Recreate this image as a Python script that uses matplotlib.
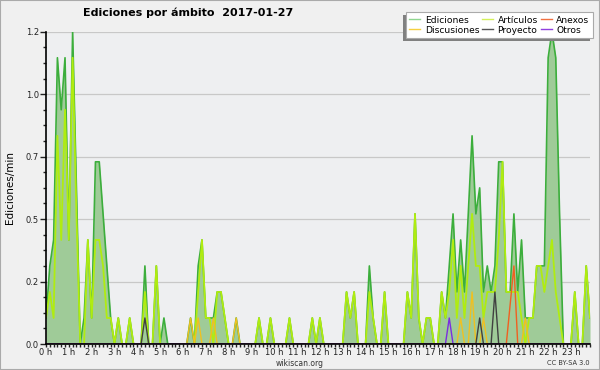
# Ediciones por ámbito - wikiscan 2017-01-27
import numpy as np
import matplotlib
matplotlib.use('Agg')
import matplotlib.pyplot as plt
from matplotlib.patches import Rectangle

# edits per 10-minute bin, 144 bins over the day
ediciones = [1, 3, 4, 11, 9, 11, 4, 12, 6, 0, 1, 4,
             1, 7, 7, 5, 3, 1, 0, 1, 0, 0, 1, 0,
             0, 0, 3, 0, 0, 3, 0, 1, 0, 0, 0, 0,
             0, 0, 1, 0, 3, 4, 1, 1, 1, 2, 2, 1,
             0, 0, 1, 0, 0, 0, 0, 0, 1, 0, 0, 1,
             0, 0, 0, 0, 1, 0, 0, 0, 0, 0, 1, 0,
             1, 0, 0, 0, 0, 0, 0, 2, 1, 2, 0, 0,
             0, 3, 1, 0, 0, 2, 0, 0, 0, 0, 0, 2,
             1, 5, 1, 0, 1, 1, 0, 0, 2, 1, 3, 5,
             2, 4, 2, 5, 8, 5, 6, 2, 3, 2, 3, 7,
             7, 2, 2, 5, 2, 4, 1, 1, 1, 3, 3, 3,
             11, 12, 11, 5, 0, 0, 0, 2, 0, 0, 3, 1]
articulos = [1, 2, 1, 8, 4, 9, 4, 11, 5, 0, 0, 4,
             1, 4, 4, 3, 1, 1, 0, 1, 0, 0, 1, 0,
             0, 0, 2, 0, 0, 3, 0, 0, 0, 0, 0, 0,
             0, 0, 0, 0, 2, 4, 1, 1, 0, 2, 2, 1,
             0, 0, 0, 0, 0, 0, 0, 0, 1, 0, 0, 1,
             0, 0, 0, 0, 1, 0, 0, 0, 0, 0, 1, 0,
             1, 0, 0, 0, 0, 0, 0, 2, 1, 2, 0, 0,
             0, 2, 1, 0, 0, 2, 0, 0, 0, 0, 0, 2,
             1, 5, 1, 0, 1, 1, 0, 0, 2, 1, 2, 4,
             1, 3, 1, 3, 5, 3, 3, 1, 2, 2, 2, 4,
             7, 2, 2, 2, 2, 1, 0, 1, 1, 3, 3, 2,
             3, 4, 2, 1, 0, 0, 0, 2, 0, 0, 3, 1]
# sparse series: bin index -> edits
disc_bins = [38, 40, 44, 50, 109, 112, 115, 126]
disc_vals = [1, 1, 1, 1, 1, 2, 1, 1]
proy_bins = [26, 114, 118]
proy_vals = [1, 1, 2]
anex_bins = [122, 123]
anex_vals = [1.5, 3]
otros_bins = [106]
otros_vals = [1]

bin_minutes = 9.6
hours = np.arange(len(ediciones)) / 6


def full(bins, vals):
    s = np.zeros(len(ediciones))
    s[bins] = vals
    return s / bin_minutes


ed = np.array(ediciones) / bin_minutes
ar = np.array(articulos) / bin_minutes

fig = plt.figure(figsize=(6, 3.7), dpi=100, facecolor='#f0f0f0')
fig.patches.append(Rectangle((0, 0), 1, 1, transform=fig.transFigure,
                             fill=False, edgecolor='#aaaaaa', linewidth=1.5))
ax = fig.add_axes([46 / 600, 26 / 370, 544 / 600, 312.3 / 370])
ax.set_facecolor('#eeeff1')

ax.fill_between(hours, ed, color='#9fcb98', lw=0, zorder=2)
ax.plot(hours, ed, color='#3cae3c', lw=1.2, zorder=3)
ax.plot(hours, ar, color='#b0ec10', lw=1.3, zorder=4)
ax.plot(hours, full(disc_bins, disc_vals), color='#f0c020', lw=1, zorder=5)
ax.plot(hours, full(proy_bins, proy_vals), color='#404040', lw=1, zorder=5)
ax.plot(hours, full(anex_bins, anex_vals), color='#f06020', lw=1, zorder=5)
ax.plot(hours, full(otros_bins, otros_vals), color='#7a2ee0', lw=1, zorder=5)

ax.set_xlim(0, hours[-1])
ax.set_ylim(0, 1.25)
ax.set_xticks(range(24))
ax.set_xticklabels([f'{h} h' for h in range(24)])
ax.set_xticks(hours, minor=True)
ax.set_yticks([0, 0.25, 0.5, 0.75, 1.0, 1.25])
ax.set_yticklabels(['0.0', '0.2', '0.5', '0.7', '1.0', '1.2'])
ax.set_yticks(np.arange(0, 1.26, 0.0625), minor=True)
ax.tick_params(axis='both', which='both', labelsize=6, colors='#222222',
               width=1, length=2.5, pad=1)
ax.tick_params(axis='x', which='major', pad=0.5)
ax.tick_params(axis='y', which='major', length=4)
ax.grid(axis='y', color='#c8c8c8', lw=0.9, zorder=0)
ax.set_axisbelow(True)
for s in ['top', 'right']:
    ax.spines[s].set_visible(False)
for s in ['left', 'bottom']:
    ax.spines[s].set_linewidth(1.2)
    ax.spines[s].set_zorder(6)

fig.text(188 / 600, 1 - 13 / 370, 'Ediciones por ámbito  2017-01-27',
         ha='center', va='center', fontsize=8, fontweight='bold')
fig.text(10 / 600, 1 - 188 / 370, 'Ediciones/min', rotation=90,
         ha='center', va='center', fontsize=7.5)
fig.text(300 / 600, 1 - 363 / 370, 'wikiscan.org', ha='center', va='center',
         fontsize=5.5, color='#333333')
fig.text(590 / 600, 1 - 363 / 370, 'CC BY-SA 3.0', ha='right', va='center',
         fontsize=4.8, color='#333333')

# legend with shadow to the lower left
fig.patches.append(Rectangle((403 / 600, 1 - 41 / 370), 187 / 600, 26 / 370,
                             transform=fig.transFigure, facecolor='#808080',
                             edgecolor='none', zorder=8))
names = ['Ediciones', 'Discusiones', 'Artículos', 'Proyecto', 'Anexos', 'Otros']
cols = ['#8fd68f', '#f5d040', '#d4f05a', '#555555', '#f07040', '#9040e0']
handles = [plt.Line2D([], [], color=c, lw=1) for c in cols]
leg = fig.legend(handles, names, ncol=3, loc='upper right',
                 bbox_to_anchor=(593 / 600, 1 - 12 / 370), fontsize=6.6,
                 frameon=True, fancybox=False, edgecolor='#aaaaaa',
                 framealpha=1, borderpad=0.4, labelspacing=0.1,
                 handlelength=1.2, handletextpad=0.5, columnspacing=0.3,
                 borderaxespad=0)
leg.get_frame().set_linewidth(0.8)
leg.set_zorder(9)

fig.savefig('out.png', dpi=100, facecolor=fig.get_facecolor())
